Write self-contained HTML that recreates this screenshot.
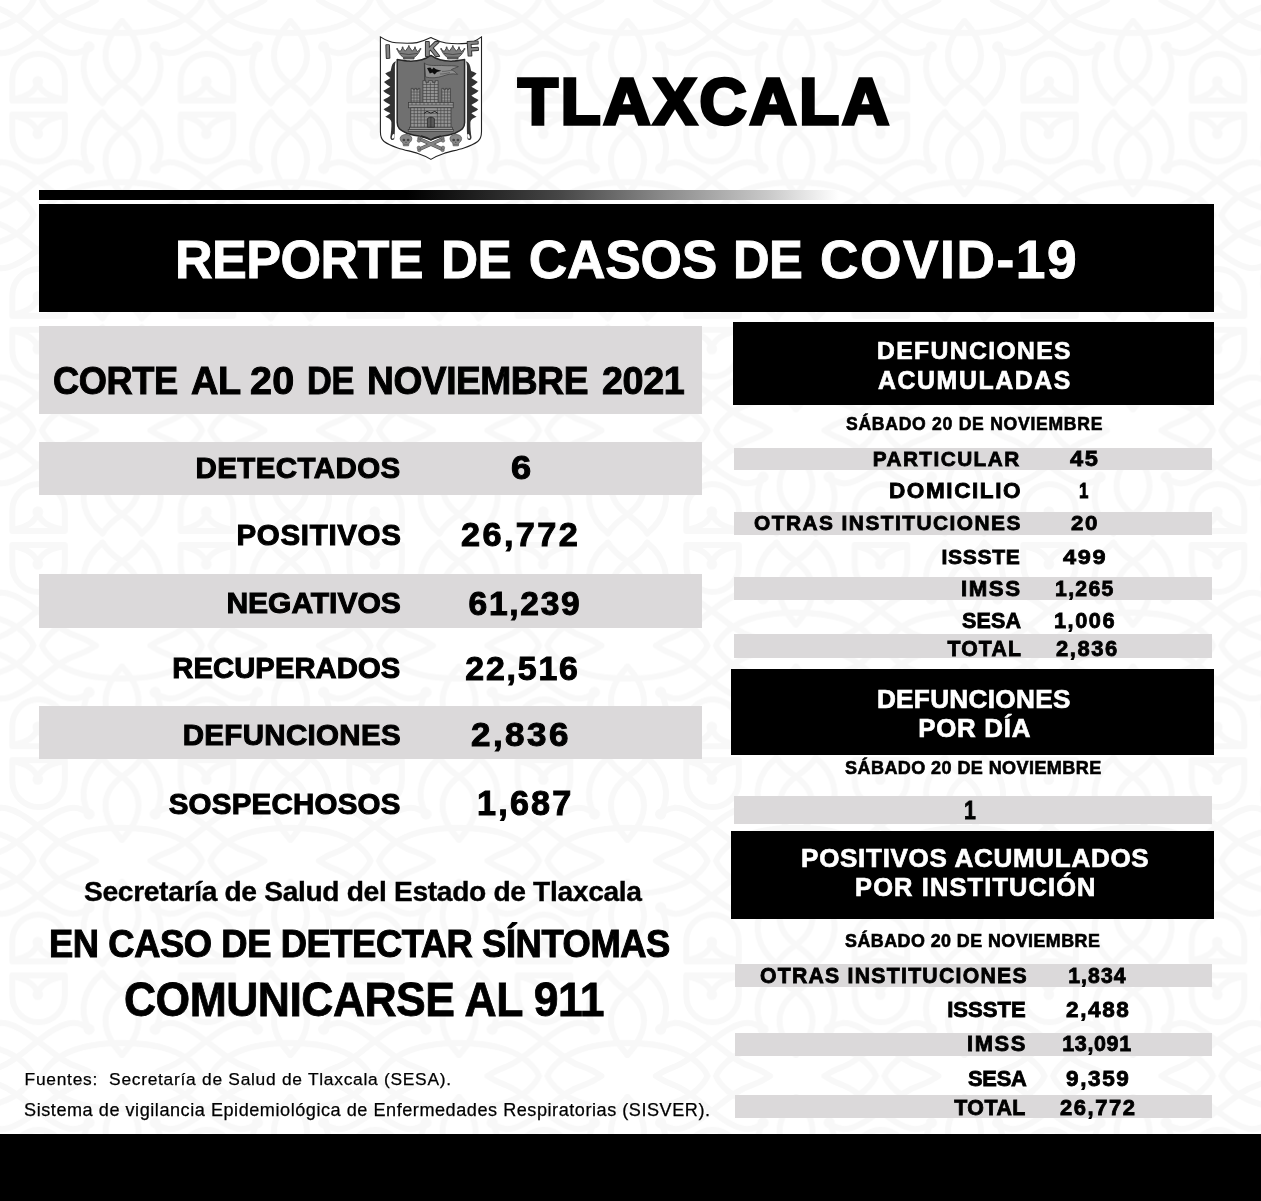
<!DOCTYPE html>
<html lang="es"><head><meta charset="utf-8"><title>Reporte de casos de COVID-19 - Tlaxcala</title>
<style>
html,body{margin:0;padding:0}
body{width:1261px;height:1201px;position:relative;overflow:hidden;background:#fff;font-family:"Liberation Sans",sans-serif}
.r{position:absolute}
.t{position:absolute;white-space:pre;line-height:1;font-weight:700;color:#000;-webkit-text-stroke-color:#000;transform-origin:0 0}
svg{position:absolute;left:0;top:0}
</style></head>
<body>
<svg width="1261" height="1201" viewBox="0 0 1261 1201" style="left:0;top:0">
<defs><pattern id="bgp" x="0" y="0" width="168.5" height="215.2" patternUnits="userSpaceOnUse">
<g fill="none" stroke="#f8f8f8" stroke-width="6" stroke-linecap="round" stroke-linejoin="round">
<g>
<path d="M12.3,100.7 V80 A26.2,26.2 0 0 1 64.7,80 V100.7 Z"/>
<path d="M14,99 Q33,96 37.8,83 Q42.6,96 63,99"/>
<circle cx="37.8" cy="81.4" r="2.4" fill="#f8f8f8"/>
<path d="M122,21 C100,45 100,68 122,84 C132,91 138,97 141.7,103"/>
<path d="M122,21 C144,45 144,68 122,84 C112,91 106,97 102.5,103"/>
<path d="M89,46.7 C78,66 84,88 102.5,103"/>
<path d="M155.2,46.7 C166,66 160,88 141.7,103"/>
<circle cx="89" cy="46.7" r="2.6" fill="#f8f8f8"/><circle cx="155.2" cy="46.7" r="2.6" fill="#f8f8f8"/>
<path d="M89,46.7 C76,58 62,54 39,36 C26,26 14,14 0,9 C-6,7 -12,4 -18,0"/>
<g transform="translate(168.5,0)"><path d="M0,9 C-6,7 -12,4 -18,0"/></g>
<path d="M155.2,46.7 C168,58 182,54 205,36"/>
<path d="M-13.3,46.7 C-1,58 13,54 36.2,36 C50,26 62,14 78,9 C84,7 90,4 96,0"/>
<path d="M54,15 C70,28 96,33 122,33 C148,33 174,28 190,15"/>
<path d="M54,15 C48,10 44,5 42,0 M190,15 C196,10 200,5 202,0"/>
<g transform="translate(-168.5,0)"><path d="M54,15 C70,28 96,33 122,33 C148,33 174,28 190,15"/><path d="M190,15 C196,10 200,5 202,0"/></g>
</g>
<g transform="translate(0,215.2) scale(1,-1)">
<path d="M12.3,100.7 V80 A26.2,26.2 0 0 1 64.7,80 V100.7 Z"/>
<path d="M14,99 Q33,96 37.8,83 Q42.6,96 63,99"/>
<circle cx="37.8" cy="81.4" r="2.4" fill="#f8f8f8"/>
<path d="M122,21 C100,45 100,68 122,84 C132,91 138,97 141.7,103"/>
<path d="M122,21 C144,45 144,68 122,84 C112,91 106,97 102.5,103"/>
<path d="M89,46.7 C78,66 84,88 102.5,103"/>
<path d="M155.2,46.7 C166,66 160,88 141.7,103"/>
<circle cx="89" cy="46.7" r="2.6" fill="#f8f8f8"/><circle cx="155.2" cy="46.7" r="2.6" fill="#f8f8f8"/>
<path d="M89,46.7 C76,58 62,54 39,36 C26,26 14,14 0,9 C-6,7 -12,4 -18,0"/>
<g transform="translate(168.5,0)"><path d="M0,9 C-6,7 -12,4 -18,0"/></g>
<path d="M155.2,46.7 C168,58 182,54 205,36"/>
<path d="M-13.3,46.7 C-1,58 13,54 36.2,36 C50,26 62,14 78,9 C84,7 90,4 96,0"/>
<path d="M54,15 C70,28 96,33 122,33 C148,33 174,28 190,15"/>
<path d="M54,15 C48,10 44,5 42,0 M190,15 C196,10 200,5 202,0"/>
<g transform="translate(-168.5,0)"><path d="M54,15 C70,28 96,33 122,33 C148,33 174,28 190,15"/><path d="M190,15 C196,10 200,5 202,0"/></g>
</g>
</g></pattern></defs>
<rect width="1261" height="1201" fill="url(#bgp)"/>
</svg>
<div class="r" style="left:39px;top:204px;width:1175.0px;height:107.5px;background:#000"></div>
<div class="r" style="left:39px;top:326.2px;width:663.0px;height:88.3px;background:#dbd9da"></div>
<div class="r" style="left:39px;top:442.1px;width:663.0px;height:53.4px;background:#dbd9da"></div>
<div class="r" style="left:39px;top:574.0px;width:663.0px;height:53.6px;background:#dbd9da"></div>
<div class="r" style="left:39px;top:706.0px;width:663.0px;height:53.4px;background:#dbd9da"></div>
<div class="r" style="left:733px;top:321.7px;width:480.5px;height:83.3px;background:#000"></div>
<div class="r" style="left:734px;top:447.8px;width:478.0px;height:22.6px;background:#dbd9da"></div>
<div class="r" style="left:734px;top:512.4px;width:478.0px;height:22.2px;background:#dbd9da"></div>
<div class="r" style="left:734px;top:577.0px;width:478.0px;height:23.0px;background:#dbd9da"></div>
<div class="r" style="left:734px;top:634.2px;width:478.0px;height:23.8px;background:#dbd9da"></div>
<div class="r" style="left:731px;top:669.0px;width:482.5px;height:85.7px;background:#000"></div>
<div class="r" style="left:734px;top:795.5px;width:478.0px;height:28.3px;background:#dbd9da"></div>
<div class="r" style="left:731px;top:830.6px;width:482.5px;height:88.6px;background:#000"></div>
<div class="r" style="left:735px;top:964.2px;width:477.0px;height:22.8px;background:#dbd9da"></div>
<div class="r" style="left:735px;top:1033.3px;width:477.0px;height:22.6px;background:#dbd9da"></div>
<div class="r" style="left:735px;top:1094.7px;width:477.0px;height:23.8px;background:#dbd9da"></div>
<div class="r" style="left:0px;top:1133.6px;width:1261.0px;height:67.4px;background:#000"></div>
<div class="r" style="left:39px;top:189.8px;width:800px;height:9.9px;background:linear-gradient(90deg,#000 0,#000 46%,#464646 65%,#8a8a8a 78%,#c8c8c8 91%,#fff 100%)"></div>
<div><span class="t" style="left:518.10px;top:68.96px;font-size:65.26px;-webkit-text-stroke-width:3.4px;letter-spacing:2.771px;">TLAXCALA</span></div>
<div><span class="t" style="left:174.86px;top:233.45px;font-size:53.34px;color:#fff;-webkit-text-stroke:0.9px #fff;letter-spacing:-0.640px;transform:scaleX(0.9789);">REPORTE</span> <span class="t" style="left:441.01px;top:233.45px;font-size:53.34px;color:#fff;-webkit-text-stroke:0.9px #fff;letter-spacing:-0.640px;transform:scaleX(0.9626);">DE</span> <span class="t" style="left:528.70px;top:233.45px;font-size:53.34px;color:#fff;-webkit-text-stroke:0.9px #fff;letter-spacing:-0.225px;">CASOS</span> <span class="t" style="left:733.15px;top:233.45px;font-size:53.34px;color:#fff;-webkit-text-stroke:0.9px #fff;letter-spacing:-0.640px;transform:scaleX(0.9509);">DE</span> <span class="t" style="left:820.00px;top:233.45px;font-size:53.34px;color:#fff;-webkit-text-stroke:0.9px #fff;letter-spacing:1.514px;">COVID-19</span></div>
<div><span class="t" style="left:52.78px;top:360.73px;font-size:39.53px;-webkit-text-stroke-width:1.0px;letter-spacing:-0.474px;transform:scaleX(0.9172);">CORTE</span> <span class="t" style="left:190.84px;top:360.73px;font-size:39.53px;-webkit-text-stroke-width:1.0px;letter-spacing:-0.474px;transform:scaleX(0.9599);">AL</span> <span class="t" style="left:250.10px;top:360.73px;font-size:39.53px;-webkit-text-stroke-width:1.0px;letter-spacing:0.100px;">20</span> <span class="t" style="left:307.06px;top:360.73px;font-size:39.53px;-webkit-text-stroke-width:1.0px;letter-spacing:-0.474px;transform:scaleX(0.8695);">DE</span> <span class="t" style="left:366.82px;top:360.73px;font-size:39.53px;-webkit-text-stroke-width:1.0px;letter-spacing:-0.474px;transform:scaleX(0.9401);">NOVIEMBRE</span> <span class="t" style="left:601.74px;top:360.73px;font-size:39.53px;-webkit-text-stroke-width:1.0px;letter-spacing:-0.474px;transform:scaleX(0.9565);">2021</span></div>
<div><span class="t" style="left:195.60px;top:453.02px;font-size:29.51px;-webkit-text-stroke-width:1.0px;letter-spacing:0.400px;">DETECTADOS</span></div>
<div><span class="t" style="left:236.50px;top:519.62px;font-size:29.51px;-webkit-text-stroke-width:1.0px;letter-spacing:0.675px;">POSITIVOS</span></div>
<div><span class="t" style="left:226.40px;top:588.23px;font-size:30.09px;-webkit-text-stroke-width:1.0px;letter-spacing:-0.063px;">NEGATIVOS</span></div>
<div><span class="t" style="left:172.30px;top:653.57px;font-size:29.22px;-webkit-text-stroke-width:1.0px;letter-spacing:0.060px;">RECUPERADOS</span></div>
<div><span class="t" style="left:182.70px;top:719.62px;font-size:29.51px;-webkit-text-stroke-width:1.0px;letter-spacing:0.320px;">DEFUNCIONES</span></div>
<div><span class="t" style="left:168.70px;top:788.72px;font-size:29.51px;-webkit-text-stroke-width:1.0px;letter-spacing:0.220px;">SOSPECHOSOS</span></div>
<div><span class="t" style="left:510.51px;top:450.75px;font-size:33.14px;-webkit-text-stroke-width:1.0px;transform:scaleX(1.0941);">6</span></div>
<div><span class="t" style="left:461.49px;top:517.21px;font-size:34.01px;-webkit-text-stroke-width:1.0px;letter-spacing:2.381px;transform:scaleX(1.0079);">26,772</span></div>
<div><span class="t" style="left:468.60px;top:587.48px;font-size:33.58px;-webkit-text-stroke-width:1.0px;letter-spacing:1.680px;">61,239</span></div>
<div><span class="t" style="left:465.30px;top:652.23px;font-size:33.87px;-webkit-text-stroke-width:1.0px;letter-spacing:1.800px;">22,516</span></div>
<div><span class="t" style="left:471.46px;top:717.96px;font-size:33.72px;-webkit-text-stroke-width:1.0px;letter-spacing:2.360px;transform:scaleX(1.0385);">2,836</span></div>
<div><span class="t" style="left:477.10px;top:786.19px;font-size:34.16px;-webkit-text-stroke-width:1.0px;letter-spacing:2.175px;">1,687</span></div>
<div><span class="t" style="left:83.91px;top:876.78px;font-size:28.49px;-webkit-text-stroke-width:0.4px;letter-spacing:-0.342px;transform:scaleX(0.9897);">Secretaría de Salud del Estado de Tlaxcala</span></div>
<div><span class="t" style="left:49.30px;top:925.32px;font-size:38.37px;-webkit-text-stroke-width:1.0px;letter-spacing:-0.460px;transform:scaleX(0.9481);">EN CASO DE DETECTAR SÍNTOMAS</span></div>
<div><span class="t" style="left:124.13px;top:975.54px;font-size:47.67px;-webkit-text-stroke-width:0.8px;letter-spacing:-0.572px;transform:scaleX(0.9339);">COMUNICARSE AL 911</span></div>
<div><span class="t" style="left:24.60px;top:1071.00px;font-size:17.37px;font-weight:400;-webkit-text-stroke-width:0.25px;letter-spacing:0.729px;">Fuentes:  Secretaría de Salud de Tlaxcala (SESA).</span></div>
<div><span class="t" style="left:24.10px;top:1101.48px;font-size:18.10px;font-weight:400;-webkit-text-stroke-width:0.25px;letter-spacing:0.537px;">Sistema de vigilancia Epidemiológica de Enfermedades Respiratorias (SISVER).</span></div>
<div><span class="t" style="left:877.00px;top:339.18px;font-size:24.71px;color:#fff;-webkit-text-stroke:0.7px #fff;letter-spacing:1.380px;">DEFUNCIONES</span></div>
<div><span class="t" style="left:878.00px;top:369.26px;font-size:24.85px;color:#fff;-webkit-text-stroke:0.7px #fff;letter-spacing:1.589px;">ACUMULADAS</span></div>
<div><span class="t" style="left:846.00px;top:415.61px;font-size:17.59px;-webkit-text-stroke-width:0.6px;letter-spacing:0.719px;">SÁBADO 20 DE NOVIEMBRE</span></div>
<div><span class="t" style="left:872.70px;top:448.81px;font-size:20.78px;-webkit-text-stroke-width:0.8px;letter-spacing:1.455px;">PARTICULAR</span></div>
<div><span class="t" style="left:1069.90px;top:448.51px;font-size:21.37px;-webkit-text-stroke-width:0.8px;letter-spacing:1.496px;transform:scaleX(1.1061);">45</span></div>
<div><span class="t" style="left:888.54px;top:480.44px;font-size:21.22px;-webkit-text-stroke-width:0.8px;letter-spacing:1.485px;transform:scaleX(1.0625);">DOMICILIO</span> <span class="t" style="left:1078.65px;top:480.44px;font-size:21.22px;-webkit-text-stroke-width:0.8px;transform:scaleX(0.8000);">1</span></div>
<div><span class="t" style="left:753.50px;top:513.43px;font-size:20.64px;-webkit-text-stroke-width:0.8px;letter-spacing:1.445px;transform:scaleX(1.0118);">OTRAS INSTITUCIONES</span></div>
<div><span class="t" style="left:1071.20px;top:513.38px;font-size:20.93px;-webkit-text-stroke-width:0.8px;letter-spacing:1.465px;transform:scaleX(1.0668);">20</span></div>
<div><span class="t" style="left:941.40px;top:546.36px;font-size:21.08px;-webkit-text-stroke-width:0.8px;letter-spacing:0.700px;">ISSSTE</span> <span class="t" style="left:1062.90px;top:546.36px;font-size:21.08px;-webkit-text-stroke-width:0.8px;letter-spacing:1.475px;transform:scaleX(1.1172);">499</span></div>
<div><span class="t" style="left:961.45px;top:578.34px;font-size:21.22px;-webkit-text-stroke-width:0.8px;letter-spacing:1.485px;transform:scaleX(1.0485);">IMSS</span> <span class="t" style="left:1055.10px;top:578.34px;font-size:21.22px;-webkit-text-stroke-width:0.8px;letter-spacing:1.275px;">1,265</span></div>
<div><span class="t" style="left:962.10px;top:611.09px;font-size:21.51px;-webkit-text-stroke-width:0.8px;letter-spacing:0.100px;">SESA</span> <span class="t" style="left:1054.29px;top:611.09px;font-size:21.51px;-webkit-text-stroke-width:0.8px;letter-spacing:1.506px;transform:scaleX(1.0117);">1,006</span></div>
<div><span class="t" style="left:947.40px;top:638.24px;font-size:21.22px;-webkit-text-stroke-width:0.8px;letter-spacing:1.175px;">TOTAL</span> <span class="t" style="left:1056.10px;top:638.24px;font-size:21.22px;-webkit-text-stroke-width:0.8px;letter-spacing:1.485px;transform:scaleX(1.0366);">2,836</span></div>
<div><span class="t" style="left:876.90px;top:685.55px;font-size:26.16px;color:#fff;-webkit-text-stroke:0.7px #fff;letter-spacing:0.310px;">DEFUNCIONES</span></div>
<div><span class="t" style="left:918.20px;top:715.50px;font-size:25.87px;color:#fff;-webkit-text-stroke:0.7px #fff;letter-spacing:0.733px;">POR DÍA</span></div>
<div><span class="t" style="left:845.10px;top:759.34px;font-size:18.02px;-webkit-text-stroke-width:0.6px;letter-spacing:0.419px;">SÁBADO 20 DE NOVIEMBRE</span></div>
<div><span class="t" style="left:963.55px;top:797.38px;font-size:26.60px;-webkit-text-stroke-width:0.8px;transform:scaleX(0.8000);">1</span></div>
<div><span class="t" style="left:801.10px;top:845.28px;font-size:26.02px;color:#fff;-webkit-text-stroke:0.7px #fff;letter-spacing:0.695px;">POSITIVOS ACUMULADOS</span></div>
<div><span class="t" style="left:855.10px;top:875.07px;font-size:25.44px;color:#fff;-webkit-text-stroke:0.7px #fff;letter-spacing:1.121px;">POR INSTITUCIÓN</span></div>
<div><span class="t" style="left:845.10px;top:932.67px;font-size:17.88px;-webkit-text-stroke-width:0.6px;letter-spacing:0.457px;">SÁBADO 20 DE NOVIEMBRE</span></div>
<div><span class="t" style="left:759.90px;top:965.44px;font-size:21.22px;-webkit-text-stroke-width:0.8px;letter-spacing:1.261px;">OTRAS INSTITUCIONES</span> <span class="t" style="left:1068.20px;top:965.44px;font-size:21.22px;-webkit-text-stroke-width:0.8px;letter-spacing:1.075px;">1,834</span></div>
<div><span class="t" style="left:947.20px;top:999.30px;font-size:22.09px;-webkit-text-stroke-width:0.8px;">ISSSTE</span> <span class="t" style="left:1066.00px;top:999.30px;font-size:22.09px;-webkit-text-stroke-width:0.8px;letter-spacing:1.547px;transform:scaleX(1.0231);">2,488</span></div>
<div><span class="t" style="left:967.48px;top:1033.99px;font-size:21.51px;-webkit-text-stroke-width:0.8px;letter-spacing:1.506px;transform:scaleX(1.0213);">IMSS</span> <span class="t" style="left:1062.20px;top:1033.99px;font-size:21.51px;-webkit-text-stroke-width:0.8px;letter-spacing:0.640px;">13,091</span></div>
<div><span class="t" style="left:967.70px;top:1067.90px;font-size:22.09px;-webkit-text-stroke-width:0.8px;letter-spacing:-0.265px;transform:scaleX(0.9898);">SESA</span> <span class="t" style="left:1066.00px;top:1067.90px;font-size:22.09px;-webkit-text-stroke-width:0.8px;letter-spacing:1.547px;transform:scaleX(1.0231);">9,359</span></div>
<div><span class="t" style="left:954.20px;top:1098.31px;font-size:21.37px;-webkit-text-stroke-width:0.8px;letter-spacing:0.500px;">TOTAL</span> <span class="t" style="left:1060.00px;top:1098.31px;font-size:21.37px;-webkit-text-stroke-width:0.8px;letter-spacing:1.496px;transform:scaleX(1.0293);">26,772</span></div>
<svg width="130" height="140" viewBox="370 28 130 140" style="left:370px;top:28px">
<path d="M380.4,36.9 C386,40.5 391,42.4 396,42.8 C404,43.4 412,43.4 417,42.6 C423,41.6 427,39.4 430.9,37.5 C434.8,39.4 439,41.8 446,43 C452,43.9 460,44 466.6,43.4 C472,42.8 477,40.2 481.5,36.9 L481.5,131.5 C481.5,137 480.3,139.5 477.7,141.5 C473.8,144.5 469.8,146 464,147.9 C456.8,150.2 449.8,151.5 443.9,153.4 C438.8,155 434.8,157 430.9,159.4 C427,157 423,155 417.9,153.4 C412,151.5 405,150.2 397.8,147.9 C392,146 388,144.5 384.1,141.5 C381.5,139.5 380.4,137 380.4,131.5 Z" fill="#fff" stroke="#222" stroke-width="1.1"/>
<path d="M396.0,61.2 C393.5,62 392.2,64 391.6,66.5 C391.0,69 390.8,70.2 390.6,71 C389.0,71.6 387.0,72.4 385.2,73.6 C387.4,76.0 389.2,77.2 390.4,78.1 C389.2,79.0 386.6,80.4 384.0,82.0 C386.2,84.4 389.2,85.8 390.4,86.7 C389.2,87.6 385.8,89.2 383.2,90.8 C385.4,93.2 389.2,94.8 390.4,95.7 C389.2,96.6 385.8,98.4 383.2,100.0 C385.4,102.4 389.2,104.0 390.4,104.9 C389.2,105.8 386.2,107.6 383.6,109.2 C385.8,111.6 389.2,112.3 390.4,113.2 C389.2,114.2 387.8,115.1 385.2,116.7 C388.2,117.7 391.0,119.5 391.4,122 C391.6,128 391.0,133 390.3,137.2 C390.4,140 392.6,140.8 394.2,139.2 C395.0,134 395.0,128 394.9,121 L394.9,66 C395.0,64 395.4,62.4 396.0,61.2 Z" fill="#333"/>
<path d="M465.8,61.2 C468.3,62 469.6,64 470.2,66.5 C470.8,69 471.0,70.2 471.2,71 C472.8,71.6 474.8,72.4 476.6,73.6 C474.4,76.0 472.6,77.2 471.4,78.1 C472.6,79.0 475.2,80.4 477.8,82.0 C475.6,84.4 472.6,85.8 471.4,86.7 C472.6,87.6 476.0,89.2 478.6,90.8 C476.4,93.2 472.6,94.8 471.4,95.7 C472.6,96.6 476.0,98.4 478.6,100.0 C476.4,102.4 472.6,104.0 471.4,104.9 C472.6,105.8 475.6,107.6 478.2,109.2 C476.0,111.6 472.6,112.3 471.4,113.2 C472.6,114.2 474.0,115.1 476.6,116.7 C473.6,117.7 470.8,119.5 470.4,122 C470.2,128 470.8,133 471.5,137.2 C471.4,140 469.2,140.8 467.6,139.2 C466.8,134 466.8,128 466.9,121 L466.9,66 C466.8,64 466.4,62.4 465.8,61.2 Z" fill="#333"/>
<ellipse cx="393.2" cy="136.4" rx="1.2" ry="2.4" fill="#fff" transform="rotate(18 393.2 136.4)"/><ellipse cx="468.6" cy="136.4" rx="1.2" ry="2.4" fill="#fff" transform="rotate(-18 468.6 136.4)"/>
<path d="M397.2,59.6 C401,60.2 405,60.9 409,61.1 C418,61.4 425,59.6 430.9,55.4 C436.8,59.6 443.8,61.4 452.8,61.1 C456.8,60.9 460.8,60.2 464.6,59.6 L464.6,122.4 C464.6,128 462,130.2 455,133.2 C447,136 437.5,136.2 430.9,139.8 C424.3,136.2 414.8,136 406.8,133.2 C399.8,130.2 397.2,128 397.2,122.4 Z" fill="#707070" stroke="#262626" stroke-width="1.5" stroke-linejoin="round"/>
<g font-family="'Liberation Sans', sans-serif" font-weight="700" fill="#868686" stroke="#303030" stroke-width="1.9" stroke-linejoin="round" paint-order="stroke">
<text x="385.3" y="57.9" font-size="18.6" transform="rotate(-2 388 51)">I</text><text x="424.4" y="56.2" font-size="20.6">K</text><text x="466.6" y="55.5" font-size="19.8" transform="rotate(-4 472 48)">F</text></g>
<path d="M397.1,49.0 C398.8,54.0 401.8,56.5 403.6,57.4 L403.6,58.9 L414.0,58.9 L414.0,57.4 C415.8,56.5 418.8,54.0 420.5,49.0 L417.4,51.6 L415.0,47.8 L412.3,51.2 L408.8,46.3 L405.3,51.2 L402.6,47.8 L400.2,51.6 Z" fill="#7e7e7e" stroke="#303030" stroke-width="0.8" stroke-linejoin="round"/><path d="M403.6,57.2 H414.0 M400.0,53.4 Q408.8,55.6 417.6,53.4" stroke="#303030" stroke-width="0.7" fill="none"/><circle cx="397.1" cy="48.8" r="0.9" fill="#4a4a4a"/><circle cx="402.6" cy="47.5" r="0.9" fill="#4a4a4a"/><circle cx="408.8" cy="46.1" r="0.9" fill="#4a4a4a"/><circle cx="415.0" cy="47.5" r="0.9" fill="#4a4a4a"/><circle cx="420.5" cy="48.8" r="0.9" fill="#4a4a4a"/>
<path d="M441.1,49.0 C442.8,54.0 445.8,56.5 447.6,57.4 L447.6,58.9 L458.0,58.9 L458.0,57.4 C459.8,56.5 462.8,54.0 464.5,49.0 L461.4,51.6 L459.0,47.8 L456.3,51.2 L452.8,46.3 L449.3,51.2 L446.6,47.8 L444.2,51.6 Z" fill="#7e7e7e" stroke="#303030" stroke-width="0.8" stroke-linejoin="round"/><path d="M447.6,57.2 H458.0 M444.0,53.4 Q452.8,55.6 461.6,53.4" stroke="#303030" stroke-width="0.7" fill="none"/><circle cx="441.1" cy="48.8" r="0.9" fill="#4a4a4a"/><circle cx="446.6" cy="47.5" r="0.9" fill="#4a4a4a"/><circle cx="452.8" cy="46.1" r="0.9" fill="#4a4a4a"/><circle cx="459.0" cy="47.5" r="0.9" fill="#4a4a4a"/><circle cx="464.5" cy="48.8" r="0.9" fill="#4a4a4a"/>
<path d="M424.4,62.8 L424.9,81.5" stroke="#3a3a3a" stroke-width="1.1"/>
<path d="M424.7,63.6 C430,66.6 437,65 444,65.6 C449,66 454,65.2 458.4,66.6 C455.6,68 453,68.6 451.4,69.6 C454,71 456,72.6 457.6,74.4 C452,73 447,74.6 443,76 C437,78 431,78.4 425.6,77 Z" fill="#8e8e8e" stroke="#3a3a3a" stroke-width="0.7"/>
<path d="M427,68 L430.4,67.6 L432,69.4 L433.6,67.4 L436,69.2 L441.4,70.8 L437,72 L434.6,74.6 L432.4,72.6 L429.8,73.6 Z" fill="#0c0c0c"/>
<path d="M442,71.4 C446,71.6 449,70.4 452,70.2 M440,74 C444,74.2 447,73 450,72.6" stroke="#444" stroke-width="0.6" fill="none"/>
<g fill="#949494" stroke="#363636" stroke-width="0.7">
<path d="M422.9,104 V80.6 H425.8 V82.4 H428.6 V80.6 H432.4 V82.4 H435.2 V80.6 H438.1 V104 Z"/>
<path d="M411.2,104 V88.4 H413.2 V89.8 H414.8 V88.4 H416.6 V89.8 H418.2 V88.4 H419.8 V104 Z"/>
<path d="M441.8,104 V88.4 H443.8 V89.8 H445.4 V88.4 H447.2 V89.8 H448.8 V88.4 H450.4 V104 Z"/>
<rect x="408.6" y="102.4" width="44.6" height="5.4"/>
<rect x="410.8" y="107.8" width="40.2" height="19.4"/>
<rect x="409.4" y="127.2" width="43" height="2.2"/>
<rect x="408.2" y="129.4" width="45.4" height="2.2"/>
</g>
<path d="M422.9,84.5 H438.1 M422.9,87.5 H438.1 M422.9,90.5 H438.1 M422.9,93.5 H438.1 M422.9,96.5 H438.1 M422.9,99.5 H438.1 M411.2,92 H419.8 M441.8,92 H450.4 M411.2,95 H419.8 M441.8,95 H450.4 M411.2,98 H419.8 M441.8,98 H450.4 M411.2,101 H419.8 M441.8,101 H450.4 M408.6,105 H453.2 M410.8,110.6 H451 M410.8,113.6 H451 M410.8,116.8 H451 M410.8,120 H451 M410.8,123.4 H451 M414.2,107.8 V127.2 M417.6,107.8 V127.2 M421,107.8 V127.2 M424.4,107.8 V127.2 M437.4,107.8 V127.2 M440.8,107.8 V127.2 M444.2,107.8 V127.2 M447.6,107.8 V127.2 M426.6,82.4 V102.4 M430.4,82.4 V102.4 M434.4,82.4 V102.4 M414,89.8 V102.4 M417,89.8 V102.4 M444.6,89.8 V102.4 M447.6,89.8 V102.4 M412,102.4 V105 M416,102.4 V105 M420,102.4 V105 M424,102.4 V105 M428,102.4 V105 M432,102.4 V105 M436,102.4 V105 M440,102.4 V105 M444,102.4 V105 M448,102.4 V105" stroke="#404040" stroke-width="0.6" fill="none"/>
<path d="M427.4,127.2 V118.6 Q430.9,115.4 434.4,118.6 V127.2 Z" fill="#5a5a5a" stroke="#1e1e1e" stroke-width="0.7"/><path d="M430.9,117 V127.2" stroke="#1e1e1e" stroke-width="0.6"/>
<path d="M424,113.4 L427,111.4 L430.9,113.2 L434.8,111.4 L437.8,113.4" stroke="#1e1e1e" stroke-width="1" fill="none"/>
<g stroke="#4a4a4a" stroke-width="3.6" stroke-linecap="round"><path d="M420.4,139.4 L441.6,148.8"/><path d="M441.4,139.4 L420.2,148.8"/></g>
<g stroke="#858585" stroke-width="2.4" stroke-linecap="round"><path d="M420.4,139.4 L441.6,148.8"/><path d="M441.4,139.4 L420.2,148.8"/></g>
<circle cx="419.4" cy="138.2" r="1.7" fill="#858585" stroke="#4a4a4a" stroke-width="0.5"/>
<circle cx="418.9" cy="140.6" r="1.7" fill="#858585" stroke="#4a4a4a" stroke-width="0.5"/>
<circle cx="442.5" cy="138.2" r="1.7" fill="#858585" stroke="#4a4a4a" stroke-width="0.5"/>
<circle cx="443" cy="140.6" r="1.7" fill="#858585" stroke="#4a4a4a" stroke-width="0.5"/>
<circle cx="419.2" cy="150" r="1.7" fill="#858585" stroke="#4a4a4a" stroke-width="0.5"/>
<circle cx="418.8" cy="147.8" r="1.7" fill="#858585" stroke="#4a4a4a" stroke-width="0.5"/>
<circle cx="442.6" cy="150" r="1.7" fill="#858585" stroke="#4a4a4a" stroke-width="0.5"/>
<circle cx="443" cy="147.8" r="1.7" fill="#858585" stroke="#4a4a4a" stroke-width="0.5"/>
<path d="M421,135.6 C424.5,136.6 428,137.8 430.9,139.8 C433.8,137.8 437.3,136.6 440.8,135.6 Z" fill="#707070"/><path d="M421,135.9 C424.5,136.8 428,137.9 430.9,139.8 C433.8,137.9 437.3,136.8 440.8,135.9" fill="none" stroke="#262626" stroke-width="1.5"/>
<path d="M400.2,138.4 C400.2,133.2 411.8,133.2 411.8,138.4 C411.8,141 410,142.4 409,143 L408.6,145.8 L403.4,145.8 L403,143 C402,142.4 400.2,141 400.2,138.4 Z" fill="#888" stroke="#505050" stroke-width="0.7"/>
<ellipse cx="403.9" cy="140" rx="1.4" ry="1.2" fill="#454545"/><ellipse cx="408.1" cy="140" rx="1.4" ry="1.2" fill="#454545"/><path d="M406,141.4 L405.3,143 L406.7,143 Z" fill="#454545"/><path d="M404,144.4 H408" stroke="#505050" stroke-width="0.5"/>
<path d="M450.0,138.4 C450.0,133.2 461.6,133.2 461.6,138.4 C461.6,141 459.8,142.4 458.8,143 L458.40000000000003,145.8 L453.2,145.8 L452.8,143 C451.8,142.4 450.0,141 450.0,138.4 Z" fill="#888" stroke="#505050" stroke-width="0.7"/>
<ellipse cx="453.7" cy="140" rx="1.4" ry="1.2" fill="#454545"/><ellipse cx="457.90000000000003" cy="140" rx="1.4" ry="1.2" fill="#454545"/><path d="M455.8,141.4 L455.1,143 L456.5,143 Z" fill="#454545"/><path d="M453.8,144.4 H457.8" stroke="#505050" stroke-width="0.5"/>
</svg>
</body></html>
